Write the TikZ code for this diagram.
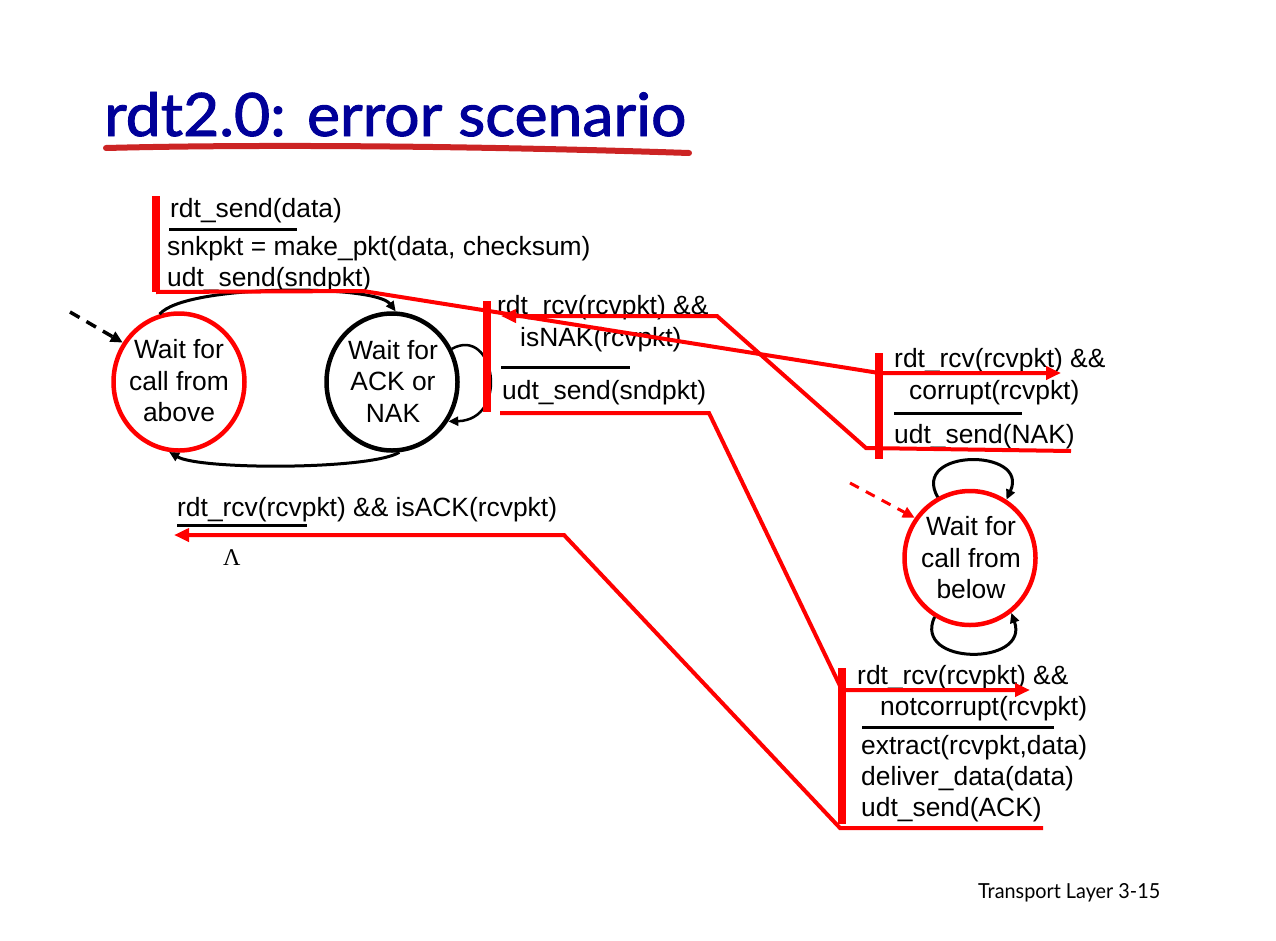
\documentclass[tikz,border=0pt]{standalone}
\usepackage{graphicx}
\usepackage{fontspec}
\setmainfont{Liberation Sans}
\newfontfamily\titlefont[FakeBold=1.6]{Lato}
\newfontfamily\footfont{Lato}
\newfontfamily\greekfont{Liberation Serif}
\usetikzlibrary{arrows.meta,shapes.geometric}
\definecolor{navy}{RGB}{0,0,153}
\definecolor{brush}{RGB}{204,36,36}
\definecolor{fsmred}{RGB}{255,0,0}
\tikzset{
  lbl/.style={anchor=base west, inner sep=0pt, font=\fontsize{26.4}{31}\selectfont, text=black},
  statebox/.style={ellipse, draw, line width=4.5pt, minimum width=131pt, minimum height=137pt, inner sep=0pt},
  statetxt/.style={align=center, inner sep=0pt, font=\fontsize{26.4}{31.5}\selectfont},
  redbar/.style={draw=fsmred, line width=8pt},
  redline/.style={draw=fsmred, line width=4pt, line join=miter},
  redarrow/.style={redline, -{Triangle[length=15pt,width=13pt]}},
  uline/.style={draw=black, line width=3pt},
  blk/.style={draw=black, line width=3pt, -{Triangle[length=10pt,width=9pt]}},
  dashblk/.style={draw=black, line width=3.5pt, dash pattern=on 11pt off 8pt, -{Triangle[length=12pt,width=11pt]}},
  dashred/.style={draw=fsmred, line width=3pt, dash pattern=on 10pt off 8pt, -{Triangle[length=12pt,width=11pt]}}
}
\begin{document}
\begin{tikzpicture}[x=1pt,y=-1pt]
\useasboundingbox (0,0) rectangle (1276,940);
\fill[white] (0,0) rectangle (1276,940);

% title
\node[anchor=base west, inner sep=0pt, text=navy] (title) at (104,136)
  {\resizebox{582pt}{44pt}{\titlefont rdt2.0: error scenario}};
\draw[brush, line width=6pt, line cap=round] (106,148) .. controls (260,144) and (480,146) .. (689,153);

% states
\node[statebox, draw=fsmred] (s1) at (179,382) {};
\node[statetxt] (s1t) at (179,381) {Wait for\\call from\\above};
\node[statebox, draw=black] (s2) at (392,382) {};
\node[statetxt] (s2t) at (393,381) {Wait for\\ACK or\\NAK};
\node[statebox, draw=fsmred, minimum height=134pt] (r) at (970,558) {};
\node[statetxt] (rt) at (971,558) {Wait for\\call from\\below};

% black transitions
\draw[blk] (s1.106) .. controls (185,284) and (375,284) .. (s2.87);
\draw[blk] (s2.-84) .. controls (370,470) and (200,470) .. (s1.-98);
\draw[blk, line width=2.5pt] (s2.29) .. controls (495,325) and (510,420) .. (s2.-35);
\draw[blk] (r.118) .. controls (910,448) and (1030,448) .. (r.58);
\draw[blk] (r.-121) .. controls (912,666) and (1030,666) .. (r.-53);

% initial arrows
\coordinate (i1) at (70,312);
\draw[dashblk] (i1) -- (s1.145);
\coordinate (i2) at (850,483);
\draw[dashred] (i2) -- (r.144);

% labels
\node[lbl] (a1) at (170,217) {rdt\_send(data)};
\node[lbl] (a2) at (167,255) {snkpkt = make\_pkt(data, checksum)};
\node[lbl] (a3) at (167,286) {udt\_send(sndpkt)};
\draw[uline] (169,229) -- (297,229);

\node[lbl] (b1) at (497,314) {rdt\_rcv(rcvpkt) \&\&};
\node[lbl] (b2) at (520,346) {isNAK(rcvpkt)};
\node[lbl] (b3) at (502,399) {udt\_send(sndpkt)};
\draw[uline] (501,367) -- (630,367);

\node[lbl] (c1) at (894,367) {rdt\_rcv(rcvpkt) \&\&};
\node[lbl] (c2) at (909,399) {corrupt(rcvpkt)};
\node[lbl] (c3) at (894,443) {udt\_send(NAK)};
\draw[uline] (894,413) -- (1022,413);

\node[lbl] (d1) at (857,684) {rdt\_rcv(rcvpkt) \&\&};
\node[lbl] (d2) at (880,715) {notcorrupt(rcvpkt)};
\node[lbl] (d3) at (861,754) {extract(rcvpkt,data)};
\node[lbl] (d4) at (861,785) {deliver\_data(data)};
\node[lbl] (d5) at (861,816) {udt\_send(ACK)};
\draw[uline] (862,727) -- (1054,727);

\node[lbl] (e1) at (177,516) {rdt\_rcv(rcvpkt) \&\& isACK(rcvpkt)};
\draw[uline] (177,525) -- (307,525);
\node[anchor=base west, inner sep=0pt, font=\greekfont\fontsize{24}{24}\selectfont] (lam) at (223,565) {Λ};

% bar coordinates
\coordinate (aT) at (156,196); \coordinate (aB) at (156,292);
\coordinate (bT) at (487,301); \coordinate (bB) at (487,412);
\coordinate (cT) at (879,353); \coordinate (cB) at (879,459);
\coordinate (dT) at (842,668); \coordinate (dB) at (842,824);

% red connectors
\coordinate (k1) at (363,291);
\coordinate (cA) at (879,373);
\coordinate (cTip) at (1061,373);
\draw[redarrow] (aB) -- (k1) -- (cA) -- (cTip);

\coordinate (cE) at (1071,451);
\coordinate (cL) at (866,448);
\coordinate (k3) at (717,316);
\coordinate (bTip) at (501,316);
\draw[redarrow] (cE) -- (cL) -- (k3) -- (bTip);

\coordinate (bL) at (500,413);
\coordinate (k4) at (709,413);
\coordinate (dA) at (842,690);
\coordinate (dTip) at (1030,690);
\draw[redarrow] (bL) -- (k4) -- (dA) -- (dTip);

\coordinate (dE) at (1043,828);
\coordinate (dL) at (840,828);
\coordinate (k5) at (564,535);
\coordinate (eTip) at (174,535);
\draw[redarrow] (dE) -- (dL) -- (k5) -- (eTip);

% bars
\draw[redbar] (aT) -- (aB);
\draw[redbar] (bT) -- (bB);
\draw[redbar] (cT) -- (cB);
\draw[redbar] (dT) -- (dB);

% footer
\node[anchor=base west, inner sep=0pt] (foot) at (978,898)
  {\resizebox{182pt}{15pt}{\footfont Transport Layer 3-15}};
\end{tikzpicture}
\end{document}
